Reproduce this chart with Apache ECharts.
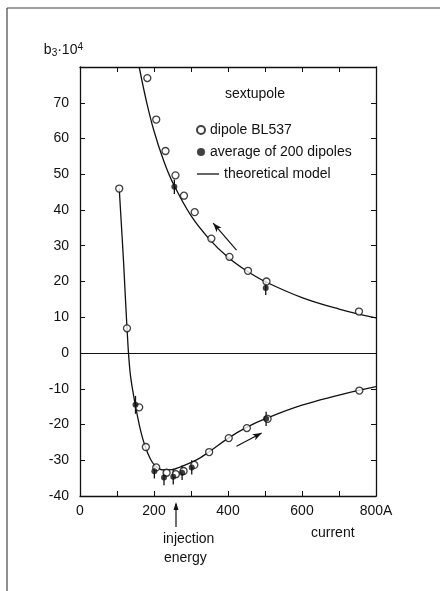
<!DOCTYPE html>
<html>
<head>
<meta charset="utf-8">
<script src="https://cdn.jsdelivr.net/npm/echarts@6/dist/echarts.min.js"></script>
<style>
  html, body { margin: 0; padding: 0; background: #fff; }
  #chart { width: 440px; height: 591px; }
</style>
</head>
<body>
<div id="chart"></div>
<script>
// values: [current (A), b3 * 1e4]
const dipoleBL537 = [
  [182, 76.9], [206, 65.3], [231, 56.5], [258, 49.7], [281, 44.0], [310, 39.4],
  [355, 32.0], [404, 26.9], [454, 23.0], [504, 20.0], [754, 11.6],
  [106, 46.0], [127, 6.9], [160, -15.2], [178, -26.3], [206, -32.0], [234, -33.5],
  [259, -33.9], [280, -33.0], [309, -31.3], [349, -27.7], [402, -23.8],
  [451, -21.0], [507, -18.4], [755, -10.5]
];
const average200 = [
  [255, 46.5], [502, 18.2], [150, -14.5], [201, -33.1], [227, -34.8],
  [252, -34.6], [276, -33.5], [302, -32.0], [503, -18.4]
];
const averageErr = [2, 2, 2.5, 2, 2.2, 2.2, 2, 2, 2];

const modelUp = [
  [160, 80], [180, 70.2], [200, 62.1], [225, 54.1], [250, 47.8], [300, 38.4],
  [350, 31.8], [400, 26.8], [450, 23.0], [500, 20.0], [600, 15.5], [700, 12.3], [800, 9.8]
];
const modelDown = [
  [106, 46], [118, 25], [127, 7], [135, -5], [145, -12], [155, -17.5], [165, -22.2],
  [176, -26.1], [190, -29.6], [203, -31.5], [225, -32.7], [250, -32.6], [270, -31.9],
  [315, -29.9], [351, -27.5], [401, -23.8], [450, -20.8], [503, -18.3], [600, -14.6],
  [700, -11.8], [755, -10.4], [800, -9.4]
];

const xTicks = [0, 200, 400, 600, 800];
const font = 'Liberation Sans';
const ink = '#111';

const frameAxis = {
  axisLine: { onZero: false, lineStyle: { color: ink, width: 1.3 } },
  axisTick: { inside: true, length: 5, lineStyle: { color: ink } },
  splitLine: { show: false }
};

const chart = echarts.init(document.getElementById('chart'));

chart.setOption({
  animation: false,
  backgroundColor: '#fff',
  textStyle: { fontFamily: font, color: ink },
  grid: { left: 80, right: 64, top: 67, bottom: 95 },
  xAxis: [Object.assign({
    type: 'value', min: 0, max: 800, interval: 100,
    axisLabel: {
      margin: 8, fontSize: 14, color: ink, fontFamily: font,
      formatter: v => xTicks.indexOf(v) < 0 ? '' : (v === 800 ? '800A' : String(v))
    }
  }, frameAxis), Object.assign({
    type: 'value', min: 0, max: 800, interval: 100, position: 'top',
    axisLabel: { show: false }
  }, frameAxis)],
  yAxis: [Object.assign({
    type: 'value', min: -40, max: 80, interval: 10,
    name: '{b|b}{s|3}{b|·10}{p|4}',
    nameLocation: 'end', nameGap: 8,
    nameTextStyle: {
      align: 'right', padding: [0, -3, 0, 0],
      rich: {
        b: { fontSize: 14, fontFamily: font, color: ink },
        s: { fontSize: 10, fontFamily: font, color: ink, padding: [6, 0, 0, 0] },
        p: { fontSize: 10, fontFamily: font, color: ink, padding: [0, 0, 7, 0] }
      }
    },
    axisLabel: {
      margin: 11, fontSize: 14, color: ink, fontFamily: font,
      formatter: v => v === 80 ? '' : String(v)
    }
  }, frameAxis), Object.assign({
    type: 'value', min: -40, max: 80, interval: 10, position: 'right',
    axisLabel: { show: false }
  }, frameAxis)],
  legend: [{
    data: ['dipole BL537', 'average of 200 dipoles'],
    orient: 'vertical', left: 191, top: 118,
    itemWidth: 8, itemHeight: 8, itemGap: 8,
    textStyle: { fontSize: 14, lineHeight: 14, fontFamily: font, color: ink },
    selectedMode: false
  }, {
    data: [{ name: 'theoretical model', icon: 'rect', itemStyle: { color: ink } }],
    orient: 'vertical', left: 192, top: 162,
    itemWidth: 22, itemHeight: 1.3,
    textStyle: { fontSize: 14, lineHeight: 14, fontFamily: font, color: ink },
    selectedMode: false
  }],
  graphic: [
    { type: 'line', shape: { x1: 7, y1: 8, x2: 7, y2: 591 }, style: { stroke: '#444', lineWidth: 1.2 } },
    { type: 'line', shape: { x1: 7, y1: 8, x2: 440, y2: 8 }, style: { stroke: '#444', lineWidth: 1.2 } },
    { type: 'text', left: 225, top: 87, style: { text: 'sextupole', font: '14px "Liberation Sans"', fill: ink } },
    { type: 'text', left: 311, top: 526, style: { text: 'current', font: '14px "Liberation Sans"', fill: ink } },
    { type: 'text', left: 163, top: 532, style: { text: 'injection', font: '14px "Liberation Sans"', fill: ink } },
    { type: 'text', left: 164, top: 551, style: { text: 'energy', font: '14px "Liberation Sans"', fill: ink } },
    { type: 'line', shape: { x1: 176, y1: 504, x2: 176, y2: 527 }, style: { stroke: ink, lineWidth: 1.2 } },
    { type: 'polygon', shape: { points: [[176, 502], [173.5, 510], [178.5, 510]] }, style: { fill: ink } }
  ],
  series: [{
    name: 'theoretical model', type: 'line', data: modelUp,
    smooth: 0.4, symbol: 'none', color: ink,
    lineStyle: { color: ink, width: 1.3 },
    markLine: {
      silent: true, symbol: 'none', label: { show: false },
      lineStyle: { color: ink, width: 1.2, type: 'solid' },
      data: [
        { yAxis: 0 },
        [{ coord: [360, 36.3], symbol: 'arrow', symbolSize: [5, 9] }, { coord: [423, 28.8], symbol: 'none' }],
        [{ coord: [423, -26.1], symbol: 'none' }, { coord: [491, -22.4], symbol: 'arrow', symbolSize: [5, 9] }]
      ]
    }
  }, {
    name: 'theoretical model', type: 'line', data: modelDown,
    smooth: 0.4, symbol: 'none', color: ink,
    lineStyle: { color: ink, width: 1.3 }
  }, {
    name: 'error', type: 'custom',
    data: average200.map((p, i) => [p[0], p[1] - averageErr[i], p[1] + averageErr[i]]),
    renderItem: (params, api) => {
      const a = api.coord([api.value(0), api.value(1)]);
      const b = api.coord([api.value(0), api.value(2)]);
      return { type: 'line', shape: { x1: a[0], y1: a[1], x2: b[0], y2: b[1] }, style: { stroke: ink, lineWidth: 1.3 } };
    },
    z: 3
  }, {
    name: 'dipole BL537', type: 'scatter', data: dipoleBL537,
    symbol: 'circle', symbolSize: 7,
    itemStyle: { color: '#fff', borderColor: ink, borderWidth: 1.3 }, z: 4
  }, {
    name: 'average of 200 dipoles', type: 'scatter', data: average200,
    symbol: 'circle', symbolSize: 6,
    itemStyle: { color: ink }, z: 5
  }]
});
</script>
</body>
</html>
